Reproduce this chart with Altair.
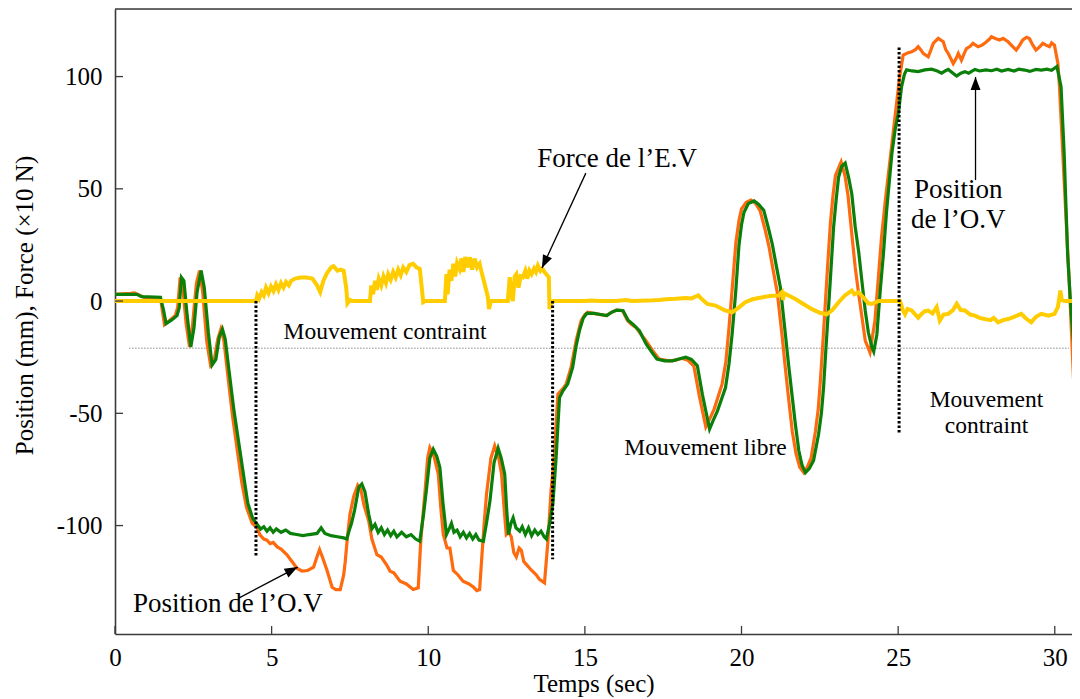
import altair as alt
import pandas as pd

# ---------------- data ----------------
green_t = [0.0, 0.7, 0.85, 1.45, 1.55, 1.63, 1.8, 1.98, 2.05, 2.12, 2.2, 2.3, 2.42, 2.52, 2.62, 2.75, 2.85, 2.98,
           3.1, 3.22, 3.33, 3.43, 3.52, 3.64, 3.8, 3.96, 4.12, 4.24, 4.4, 4.54, 4.65, 4.75, 4.85, 4.95, 5.05, 5.15,
           5.3, 5.45, 5.6, 5.8, 6.0, 6.2, 6.45, 6.58, 6.7, 6.9, 7.1, 7.3, 7.4, 7.48, 7.55, 7.65, 7.78, 7.88, 7.98,
           8.1, 8.2, 8.3, 8.4, 8.5, 8.6, 8.7, 8.8, 8.9, 9.0, 9.15, 9.3, 9.45, 9.6, 9.73, 9.85, 9.95, 10.05, 10.16,
           10.27, 10.37, 10.47, 10.58, 10.68, 10.74, 10.82, 10.92, 11.02, 11.12, 11.22, 11.32, 11.42, 11.52, 11.62,
           11.76, 11.87, 11.97, 12.1, 12.23, 12.33, 12.44, 12.5, 12.56, 12.64, 12.71, 12.8, 12.92, 13.0, 13.1, 13.2,
           13.3, 13.4, 13.5, 13.6, 13.7, 13.77, 13.87, 13.98, 14.08, 14.19, 14.3, 14.45, 14.61, 14.72, 14.83, 14.95,
           15.06, 15.3, 15.5, 15.7, 15.85, 16.02, 16.22, 16.38, 16.55, 16.74, 16.95, 17.15, 17.3, 17.55, 17.8, 18.0,
           18.22, 18.4, 18.59, 18.75, 18.98, 19.1, 19.23, 19.49, 19.6, 19.7, 19.81, 19.92, 20.0, 20.08, 20.22, 20.4,
           20.55, 20.71, 20.85, 20.98, 21.12, 21.24, 21.4, 21.5, 21.61, 21.72, 21.83, 21.93, 22.04, 22.17, 22.3,
           22.46, 22.55, 22.62, 22.7, 22.78, 22.86, 22.94, 23.02, 23.1, 23.2, 23.31, 23.42, 23.52, 23.63, 23.74,
           23.85, 23.95, 24.05, 24.16, 24.22, 24.32, 24.43, 24.53, 24.63, 24.8, 24.9, 25.01, 25.11, 25.2, 25.27,
           25.45, 25.64, 25.85, 26.07, 26.25, 26.39, 26.5, 26.6, 26.75, 26.87, 27.0, 27.13, 27.25, 27.45, 27.6,
           27.8, 27.98, 28.15, 28.3, 28.51, 28.7, 28.85, 29.04, 29.2, 29.4, 29.57, 29.75, 29.9, 30.07, 30.2, 30.3,
           30.41, 30.52, 30.63, 30.74]
green_v = [3, 3, 2, 1.7, -4, -10, -8.5, -6.5, -3, 10.5, 9, -6, -20.5, -12, 4, 13.6, 6, -14,
           -28.5, -26, -16, -12.5, -17, -31, -49, -64, -79, -90, -97, -99.5, -101.5, -100.5, -102.5, -101, -103, -101.5,
           -103, -102, -103.5, -104, -104.5, -104, -103.5, -101, -103.5, -104.5, -105, -105.5, -106, -102, -99, -93, -83, -81.5, -85,
           -95, -101.5, -99.5, -103, -101, -104, -102, -104.5, -102.5, -105, -103, -105, -104, -106, -107, -95, -83, -70, -66,
           -69, -74, -90, -104, -101, -99, -103, -102, -105, -103, -105.5, -103.5, -106, -104, -106.5,
           -107, -98, -89, -72, -65.5, -70, -77, -92, -104, -99, -96.5, -101, -102.5, -100.5, -104, -101,
           -104.5, -102, -104, -102.5, -105, -106, -99.5, -90, -70, -43, -40, -37, -29.5, -20, -13, -7.5,
           -5.5, -5.5, -6, -6.5, -5, -4, -4.3, -8.5, -10.5, -13.2, -19, -23, -25.8, -26.6, -26.6, -25.8,
           -25, -26, -28.8, -41.5, -57, -53, -49, -38.5, -28, -14.7, 3.2, 25, 34, 39.6, 43.5, 44.6,
           43, 40.4, 33, 25.5, 15, 6.2, -14.7, -28, -41.5, -55, -66.7, -73, -76.4, -74.5, -71,
           -59.3, -50, -38.5, -20, -2.7, 15, 33, 45, 55.3, 60, 61.5, 55, 47.8, 33, 22,
           8, -4.3, -14, -20.5, -22.5, -15, 5, 21, 40, 65.7, 76, 84, 95.5, 101, 103,
           102.5, 102.2, 103, 103.3, 102.5, 101.5, 102.5, 103.2, 101.5, 100.2, 101.5, 102.2, 101.5, 103.2, 102.5,
           103, 102.6, 103.3, 102.5, 103.2, 102.5, 103.3, 102.9, 102.3, 103.2, 102.9, 103.3, 102.8, 104.5, 95.5, 65.7,
           21, -5, -23.6, -31]

orange_t = [0.0, 0.5, 0.62, 0.8, 0.95, 1.45, 1.52, 1.58, 1.75, 1.92, 2.0, 2.08, 2.15, 2.27, 2.38, 2.48, 2.6, 2.7,
            2.8, 2.93, 3.05, 3.17, 3.28, 3.38, 3.48, 3.6, 3.75, 3.9, 4.05, 4.2, 4.38, 4.54, 4.62, 4.75, 4.85, 4.95,
            5.05, 5.18, 5.3, 5.49, 5.65, 5.81, 5.97, 6.15, 6.34, 6.47, 6.53, 6.62, 6.77, 6.93, 7.05, 7.19, 7.3, 7.35,
            7.42, 7.5, 7.62, 7.75, 7.85, 7.95, 8.1, 8.2, 8.36, 8.5, 8.67, 8.78, 8.9, 9.1, 9.3, 9.52, 9.68, 9.76,
            9.89, 9.98, 10.05, 10.18, 10.32, 10.4, 10.48, 10.6, 10.69, 10.8, 10.95, 11.11, 11.3, 11.45, 11.55,
            11.64, 11.7, 11.78, 11.86, 12.0, 12.12, 12.25, 12.34, 12.42, 12.49, 12.57, 12.65, 12.73, 12.81, 12.9,
            12.97, 13.05, 13.13, 13.3, 13.44, 13.55, 13.71, 13.82, 13.92, 14.03, 14.1, 14.14, 14.3, 14.4, 14.56,
            14.72, 14.88, 15.0, 15.09, 15.36, 15.68, 15.85, 16.0, 16.2, 16.36, 16.5, 16.63, 16.8, 16.95, 17.16,
            17.37, 17.69, 17.9, 18.1, 18.3, 18.48, 18.65, 18.86, 19.0, 19.13, 19.38, 19.5, 19.6, 19.7, 19.82,
            19.92, 20.0, 20.15, 20.3, 20.45, 20.6, 20.75, 20.88, 21.02, 21.14, 21.3, 21.4, 21.5, 21.62, 21.74,
            21.86, 21.99, 22.1, 22.22, 22.36, 22.45, 22.52, 22.6, 22.68, 22.76, 22.84, 22.92, 23.0, 23.18, 23.3,
            23.4, 23.52, 23.63, 23.74, 23.95, 24.1, 24.26, 24.47, 24.6, 24.74, 24.85, 24.95, 25.05, 25.16, 25.3,
            25.43, 25.55, 25.64, 25.72, 25.8, 25.96, 26.05, 26.12, 26.28, 26.44, 26.52, 26.6, 26.76, 26.85, 26.92,
            27.02, 27.1, 27.18, 27.3, 27.39, 27.55, 27.68, 27.76, 27.9, 27.98, 28.1, 28.24, 28.35, 28.51, 28.65,
            28.77, 28.88, 28.98, 29.1, 29.19, 29.3, 29.4, 29.5, 29.62, 29.72, 29.83, 29.9, 29.99, 30.1, 30.15,
            30.31, 30.47, 30.6, 30.7]
orange_v = [3, 3.4, 3.6, 2.5, 1.5, 1.5, -5, -10.5, -8.5, -6.5, -3, 10.5, 8, -10, -20.5, -10, 8, 13.6,
            4, -18, -28.5, -26, -17, -12.5, -18, -33, -51, -66, -81, -92, -99, -101, -104, -106, -106.5, -108,
            -107.5, -109.5, -110.5, -113, -116, -119, -120.3, -120, -118.5, -113, -110.7, -114, -120, -127.5, -128.5, -128.5, -122, -116,
            -105, -95, -87, -82, -84, -91, -98, -106, -113, -114, -117.5, -120.3, -121, -124.8, -126, -128.5, -127.7, -107,
            -86, -70, -65.3, -69, -77, -92, -104, -110, -110, -120, -122, -124.8, -126, -127.5, -129,
            -128.5, -116, -100, -86, -70, -64.5, -70, -77, -92, -104, -103, -105, -112, -114, -110,
            -111, -116, -117.3, -120, -121.8, -124, -125.5, -107, -84.6, -68.2, -50, -41.5, -39, -37, -29.5,
            -17.6, -8.7, -6, -5, -5.7, -6.5, -5, -4, -4.2, -8.7, -10.5, -11.7, -15, -17.6, -22,
            -25.8, -26.6, -26.3, -25.5, -26.5, -29, -42, -56, -52, -48, -37, -27, -12, 5, 26,
            36, 41, 44, 45, 43.5, 40, 32, 24, 13, 4, -16, -30, -43, -58, -68,
            -74, -76.4, -74, -70, -58, -48, -35, -18, 0, 18, 35, 47, 56, 62, 56,
            47, 30, 15, 3.2, -17.6, -22.9, -8.7, 28.5, 46, 62.7, 76, 88, 100, 109.6, 110.5,
            111, 112, 113.3, 112, 110.3, 108.8, 112, 114.8, 117, 115.5, 112, 110.3, 105.8, 108, 110.3,
            107.3, 110, 112.5, 113.5, 114.8, 113.3, 114, 114.8, 116.5, 117.8, 117, 116.3, 117, 115.5, 113.5,
            111.8, 114, 116.3, 117.5, 117, 114, 111.8, 113, 114.8, 114, 113.3, 115, 114, 105.8, 95.5,
            50.8, 6.2, -35, -51]

force_t = [0, 4.5, 4.54, 4.6, 4.68, 4.75, 4.82, 4.9, 4.98, 5.06, 5.14, 5.22, 5.3, 5.38, 5.46, 5.55, 5.62, 5.75,
           5.92, 6.1, 6.3, 6.45, 6.55, 6.65, 6.77, 6.9, 6.98, 7.1, 7.2, 7.3, 7.38, 7.42, 7.5, 7.6, 8.14, 8.18, 8.24,
           8.3, 8.36, 8.42, 8.5, 8.57, 8.65, 8.72, 8.8, 8.88, 8.96, 9.04, 9.12, 9.2, 9.3, 9.4, 9.52, 9.62, 9.73, 9.8,
           9.84, 9.9, 10.53, 10.58, 10.62, 10.68, 10.74, 10.8, 10.86, 10.92, 11.0, 11.06, 11.12, 11.18, 11.26, 11.33,
           11.4, 11.48, 11.56, 11.64, 11.7, 11.8, 11.9, 11.94, 12.0, 12.54, 12.6, 12.66, 12.7, 12.76, 12.81, 12.88,
           12.95, 13.02, 13.1, 13.16, 13.23, 13.3, 13.38, 13.44, 13.5, 13.58, 13.64, 13.71, 13.85, 13.87, 13.92,
           13.98, 15.0, 15.2, 15.5, 16.0, 16.3, 16.5, 17.0, 17.37, 17.6, 17.9, 18.22, 18.4, 18.62, 18.72, 18.91,
           19.17, 19.45, 19.7, 19.9, 20.12, 20.35, 20.55, 20.8, 20.98, 21.2, 21.29, 21.32, 21.36, 21.5, 21.72, 22.0,
           22.25, 22.5, 22.72, 22.9, 23.1, 23.3, 23.52, 23.6, 23.74, 23.9, 24.05, 24.16, 24.37, 25.06, 25.15, 25.22,
           25.3, 25.43, 25.55, 25.64, 25.75, 25.85, 25.96, 26.1, 26.23, 26.33, 26.45, 26.6, 26.75, 26.87, 27.0,
           27.13, 27.3, 27.45, 27.6, 27.76, 27.95, 28.05, 28.19, 28.35, 28.51, 28.7, 28.93, 29.1, 29.25, 29.4,
           29.57, 29.8, 29.99, 30.1, 30.18, 30.22, 30.3, 30.7]
force_v = [0, 0, 2.5, 1, 4, 2.5, 6, 3.5, 6.5, 4.5, 7.5, 5, 8, 6, 8.5, 7, 9, 10,
           10.5, 10.5, 10, 7, 4, 9, 12.5, 15, 15.5, 13.5, 14, 13.5, 6, -1, 0.5, 0, 0, 7, 3,
           9, 5, 10, 7, 11, 8, 12, 9.5, 13, 10.5, 14, 11.5, 15, 13, 16, 16.6, 15, 14.3, 5,
           -0.5, 0, 0, 12, 3, 14, 9, 16.6, 11, 17, 14.3, 19, 13, 19.6, 15, 19.5,
           14, 18.9, 15, 16.6, 13, 7.6, 2, -3.5, 0, 0, 10.6, 2, 0, 11, 12, 6,
           11, 10.6, 13.5, 10, 13.6, 12, 14.5, 13, 15.8, 13.5, 14.5, 12.9, 10.6, -3.5, -1,
           0, 0, 0.3, 0, 0, 0.5, 0, 0.2, 0.5, 0.8, 1, 1.4, 1.2, 2.5, 1, -1.3,
           -2, -4, -5, -3, -0.5, 0.8, 1.4, 2, 2.4, 2.5, 3.9, 0.5, 3.5, 2.5, 0.9, -1.5,
           -3.6, -5.2, -5.9, -4, -0.5, 2.5, 4.7, 3, 3.9, 1.5, -1, -1.3, 0, 0, -4, -5.9,
           -3.5, -4.2, -6, -7.4, -5.7, -4.5, -4.2, -5.5, -2.7, -8.7, -6, -5.7, -4, -1.2, -4,
           -4.2, -6, -6.5, -7.5, -8, -8.5, -7.5, -9.5, -8.5, -8, -7, -5.7, -8, -9.5, -7,
           -5.7, -6.5, -5.7, -2.7, 4.7, 0.5, 0, 0]

x_ticks = [0, 5, 10, 15, 20, 25, 30]
y_ticks = [-100, -50, 0, 50, 100]

# annotations (data coordinates)
label_text = ["Force de l\u2019E.V", "Position de l\u2019O.V", "Position", "de l\u2019O.V",
              "Mouvement contraint", "Mouvement libre", "Mouvement", "contraint"]
label_t = [16.03, 3.6, 26.92, 26.92, 8.62, 18.85, 27.82, 27.82]
label_v = [59.7, -138.5, 45.9, 32.5, -16.9, -68.6, -47.1, -58.7]
label_size = [27, 27, 27, 27, 23.5, 23.5, 23.5, 23.5]

arrow_tail_t = [15.03, 3.95, 27.47]
arrow_tail_v = [57.0, -132.3, 53.9]
arrow_tip_t = [13.63, 5.83, 27.47]
arrow_tip_v = [14.7, -118.5, 99.8]
arrow_angle = [205, 62, 0]

vline_t = [4.5, 13.97, 25.03]
vline_top = [0, 0, 113]
vline_bottom = [-114, -115, -59]

hline_v = -21
hline_t = [0.45, 30.45]

# ---------------- chart ----------------
W, H = 957, 625
X_DOM = [0, 30.55]
Y_DOM = [-148.3, 130.1]
FONT = "Liberation Serif"
AXC = "#3a3a3a"

xs = alt.Scale(domain=X_DOM, nice=False, zero=False)
ys = alt.Scale(domain=Y_DOM, nice=False, zero=False)

x_axis = alt.Axis(values=x_ticks, title="Temps (sec)", ticks=False, grid=False,
                  labelFont=FONT, labelFontSize=25, labelColor="black", labelPadding=11,
                  labelFlush=False, labelOverlap=False, domainColor=AXC, domainWidth=1.6,
                  titleFont=FONT, titleFontSize=25, titleFontWeight="normal", titleColor="black",
                  titleBaseline="middle", titleY=49)
y_axis = alt.Axis(values=y_ticks, title="Position (mm), Force (\u00d710 N)", ticks=False, grid=False,
                  labelFont=FONT, labelFontSize=25, labelColor="black", labelPadding=13,
                  labelFlush=False, labelOverlap=False, labelExpr="'' + datum.value",
                  domainColor=AXC, domainWidth=1.6,
                  titleFont=FONT, titleFontSize=25, titleFontWeight="normal", titleColor="black",
                  titleAngle=270, titleAlign="center", titleBaseline="middle", titleX=-91, titleY=296)

X = alt.X("t:Q", scale=xs, axis=x_axis)
Y = alt.Y("v:Q", scale=ys, axis=y_axis)


def series(t, v):
    return pd.DataFrame({"t": t, "v": v})


hline = alt.Chart(pd.DataFrame({"t": [hline_t[0]], "t2": [hline_t[1]], "v": [hline_v]})).mark_rule(
    color="#8a8a8a", strokeWidth=1, strokeDash=[1.5, 1.5]).encode(x=X, x2="t2:Q", y=Y)

orange = alt.Chart(series(orange_t, orange_v)).mark_line(
    color="#FF6A0E", strokeWidth=3.2, clip=True).encode(x=X, y=Y, order="t:Q")
green = alt.Chart(series(green_t, green_v)).mark_line(
    color="#0A800A", strokeWidth=3.2, clip=True).encode(x=X, y=Y, order="t:Q")
force = alt.Chart(series(force_t, force_v)).mark_line(
    color="#FFCC00", strokeWidth=4, clip=True).encode(x=X, y=Y, order="t:Q")

vlines = alt.Chart(pd.DataFrame({"t": vline_t, "v": vline_top, "v2": vline_bottom})).mark_rule(
    color="black", strokeWidth=3, strokeDash=[2.5, 2]).encode(x=X, y=Y, y2="v2:Q")

labels = alt.Chart(pd.DataFrame({"t": label_t, "v": label_v, "txt": label_text, "s": label_size})).mark_text(
    font=FONT, color="black", align="center", baseline="alphabetic").encode(
    x=X, y=Y, text="txt:N", size=alt.Size("s:Q", scale=None, legend=None))

shafts = alt.Chart(pd.DataFrame({"t": arrow_tail_t, "v": arrow_tail_v, "t2": arrow_tip_t, "v2": arrow_tip_v})).mark_rule(
    color="black", strokeWidth=1.3).encode(x=X, y=Y, x2="t2:Q", y2="v2:Q")

heads = alt.Chart(pd.DataFrame({"t": arrow_tip_t, "v": arrow_tip_v, "a": arrow_angle})).mark_point(
    shape="M0,0 L-0.42,1.1 L0.42,1.1 Z", filled=True, color="black", opacity=1, size=560).encode(
    x=X, y=Y, angle=alt.Angle("a:Q", scale=None))

xt = alt.Chart(pd.DataFrame({"t": x_ticks})).mark_rule(color=AXC, strokeWidth=1.3).encode(
    x=X, y=alt.value(H), y2=alt.value(H - 8))
yt = alt.Chart(pd.DataFrame({"v": y_ticks})).mark_rule(color=AXC, strokeWidth=1.3).encode(
    y=Y, x=alt.value(0), x2=alt.value(8))
top_border = alt.Chart(pd.DataFrame({"k": [0]})).mark_rule(color=AXC, strokeWidth=1.6).encode(
    y=alt.value(0), x=alt.value(0), x2=alt.value(W))

chart = alt.layer(hline, orange, green, force, vlines, labels, shafts, heads, xt, yt, top_border).properties(
    width=W, height=H,
    autosize=alt.AutoSizeParams(type="none"),
    padding={"left": 107, "top": 1, "right": 0, "bottom": 65},
).configure_view(stroke=None).configure(background="white")

chart.save("out.html", embed_options={"renderer": "svg", "actions": False})
